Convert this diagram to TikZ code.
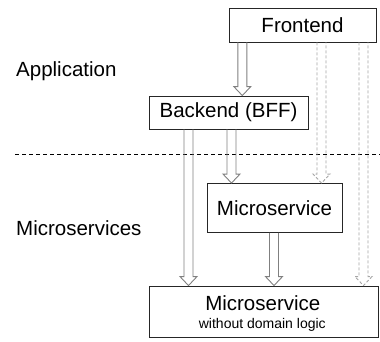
\documentclass[tikz,border=0pt]{standalone}
\usepackage{fontspec}
\setmainfont{Liberation Sans}
\usetikzlibrary{calc}
\begin{document}
\begin{tikzpicture}[x=1pt,y=-1pt,
  box/.style={draw=black!85, line width=0.9pt, inner sep=0pt, font=\fontsize{20.5}{24}\selectfont},
  lbl/.style={anchor=base west, inner sep=0pt, font=\fontsize{20.5}{24}\selectfont},
  txt/.style={anchor=base, inner sep=0pt, font=\fontsize{20.5}{24}\selectfont},
  small/.style={anchor=base, inner sep=0pt, font=\fontsize{14}{16}\selectfont},
  fat/.style={line width=0.9pt, line join=miter, to path={let \p1=(\tikztostart), \p2=(\tikztotarget) in
    (\x1-4.5pt,\y1) -- (\x1-4.5pt,\y2+9pt) -- (\x1-8.5pt,\y2+9pt) -- (\x1,\y2) -- (\x1+8.5pt,\y2+9pt) -- (\x1+4.5pt,\y2+9pt) -- (\x1+4.5pt,\y1)}},
  solidarrow/.style={fat, draw=black!50},
  dasharrow/.style={fat, draw=black!35, dash pattern=on 3pt off 2pt}
]
\useasboundingbox[fill=white] (0,0) rectangle (380,341);
\node[box, minimum width=147pt, minimum height=34pt] (fe) at (302.5,25) {Frontend};
\node[box, minimum width=159pt, minimum height=33pt] (bff) at (228.5,112.5) {Backend (BFF)};
\node[box, minimum width=135pt, minimum height=49pt] (ms) at (274.5,208) {Microservice};
\node[box, minimum width=229pt, minimum height=51pt] (bot) at (263.5,311.5) {};
\node[txt] (bott) at (262.8,310.7) {Microservice};
\node[small] (bots) at (262.3,328.3) {without domain logic};
\node[lbl] (app) at (16,76) {Application};
\node[lbl] (msl) at (16,235) {Microservices};
\coordinate (sepl) at (15,154);
\coordinate (sepr) at (380,154);
\draw[black, line width=0.8pt, dash pattern=on 4pt off 3pt] (sepl) -- (sepr);
\draw[solidarrow] (fe.south -| 242.3,0) to (bff.north -| 242.3,0);
\draw[solidarrow] (bff.south -| 231.5,0) to (ms.north -| 231.5,0);
\draw[solidarrow] (bff.south -| 188.5,0) to (bot.north -| 188.5,0);
\draw[solidarrow] (ms.south -| 274,0) to (bot.north -| 274,0);
\draw[dasharrow] (fe.south -| 321.5,0) to (ms.north -| 321.5,0);
\draw[dasharrow] (fe.south -| 363.5,0) to (bot.north -| 363.5,0);
\end{tikzpicture}
\end{document}
